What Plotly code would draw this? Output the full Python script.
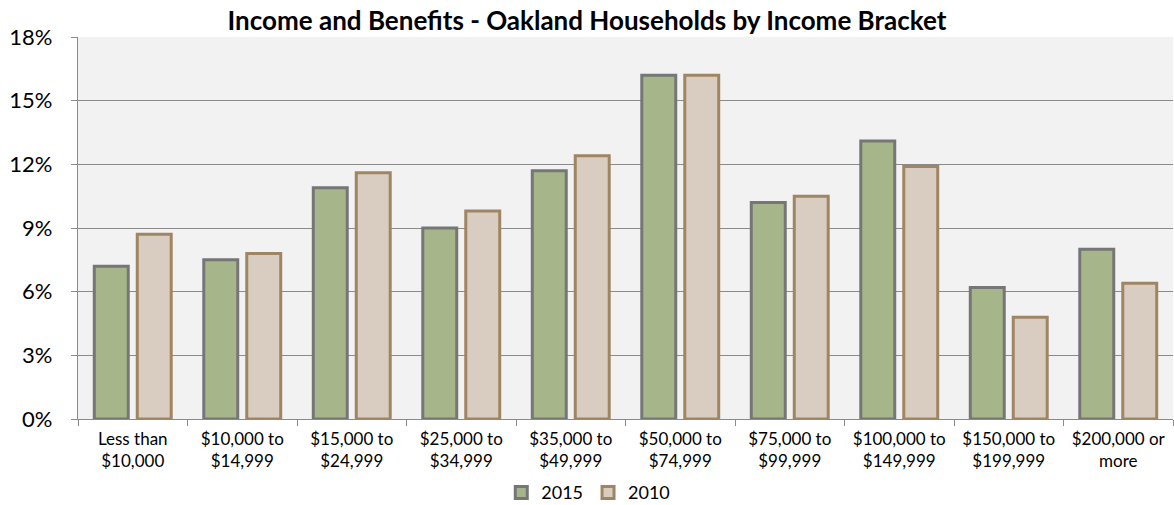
import plotly.graph_objects as go

categories = ["Less than<br>$10,000", "$10,000 to<br>$14,999", "$15,000 to<br>$24,999",
              "$25,000 to<br>$34,999", "$35,000 to<br>$49,999", "$50,000 to<br>$74,999",
              "$75,000 to<br>$99,999", "$100,000 to<br>$149,999", "$150,000 to<br>$199,999",
              "$200,000 or<br>more"]
values_2015 = [7.2, 7.5, 10.9, 9.0, 11.7, 16.2, 10.2, 13.1, 6.2, 8.0]
values_2010 = [8.7, 7.8, 11.6, 9.8, 12.4, 16.2, 10.5, 11.9, 4.8, 6.4]
y_ticks = [0, 3, 6, 9, 12, 15, 18]
y_tick_labels = ["0%", "3%", "6%", "9%", "12%", "15%", "18%"]

FONT = "Lato, 'Open Sans', sans-serif"

fig = go.Figure()
fig.add_trace(go.Bar(name="2015", x=categories, y=values_2015,
                     marker=dict(color="#A7B68A", line=dict(color="#767676", width=3))))
fig.add_trace(go.Bar(name="2010", x=categories, y=values_2010,
                     marker=dict(color="#D8CDC0", line=dict(color="#A08563", width=3))))

fig.update_layout(
    width=1174, height=505,
    margin=dict(l=78, r=1, t=37, b=86, autoexpand=False),
    paper_bgcolor="white", plot_bgcolor="#F2F2F2",
    barmode="group", bargap=0.215, bargroupgap=0.21,
    font=dict(family=FONT, color="black"),
    title=dict(text="<b>Income and Benefits - Oakland Households by Income Bracket</b>",
               x=0.5, xref="container", xanchor="center",
               y=1 - 21 / 505, yref="container", yanchor="middle",
               font=dict(size=26, family=FONT, color="black")),
    legend=dict(orientation="h", x=0.466, xanchor="center",
                y=-0.193, yanchor="middle", font=dict(size=18),
                traceorder="normal", itemwidth=30,
                bgcolor="rgba(0,0,0,0)"),
    showlegend=True,
)
fig.update_yaxes(range=[0, 18], tickvals=y_ticks, ticktext=y_tick_labels,
                 showgrid=True, gridcolor="#8A8A8A", gridwidth=1.2,
                 showline=True, linecolor="#8A8A8A", linewidth=1.2,
                 ticks="outside", ticklen=6, tickcolor="#8A8A8A",
                 ticklabelstandoff=14,
                 tickfont=dict(size=22), zeroline=False, fixedrange=True)
fig.update_xaxes(showline=True, linecolor="#8A8A8A", linewidth=1.2,
                 ticks="outside", tickson="boundaries", ticklen=6, tickcolor="#8A8A8A",
                 ticklabelstandoff=4,
                 tickfont=dict(size=17), tickangle=0, showgrid=False)

fig.write_html("out.html", config={"displayModeBar": False},
               post_script="document.body.style.margin='0px';")
